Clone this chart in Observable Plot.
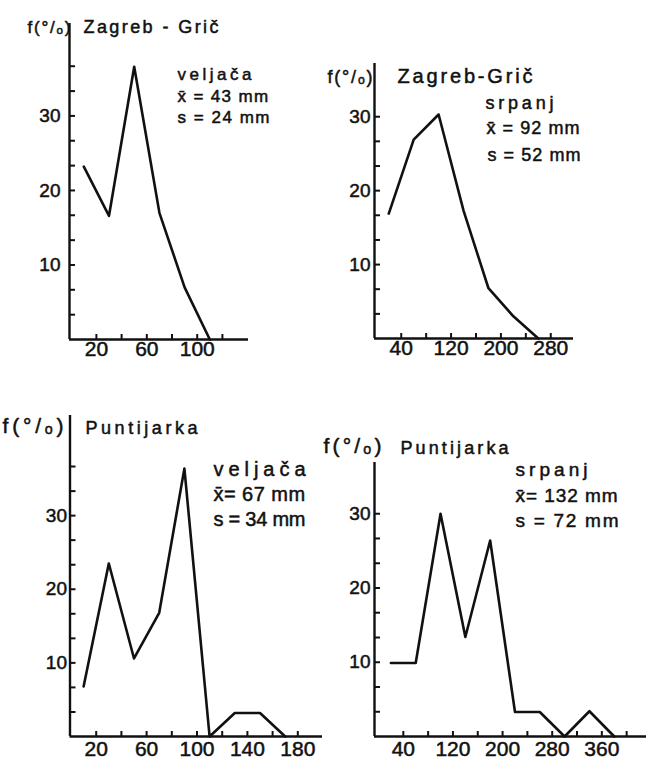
<!DOCTYPE html>
<html>
<head>
<meta charset="utf-8">
<script src="https://cdn.jsdelivr.net/npm/d3@7"></script>
<script src="https://cdn.jsdelivr.net/npm/@observablehq/plot@0.6"></script>
<style>
  html, body { margin: 0; padding: 0; background: #fff; }
  #chart { position: relative; width: 646px; height: 763px; overflow: hidden; background: #fff; }
  #chart svg { position: absolute; left: 0; top: 0; }
</style>
</head>
<body>
<div id="chart"></div>
<script>
// ---------- data ----------
// class midpoints (mm) and relative frequency f (%)
const bins1 = [10, 30, 50, 70, 90, 110];
const freq1 = [23.2, 16.6, 36.6, 17.0, 7.0, 0];

const bins2 = [20, 60, 100, 140, 180, 220, 260];
const freq2 = [16.9, 26.9, 30.3, 17.3, 6.8, 3.0, 0];

const bins3 = [10, 30, 50, 70, 90, 110, 130, 150, 170];
const freq3 = [6.8, 23.5, 10.6, 16.8, 36.4, 0, 3.2, 3.2, 0];

const bins4 = [20, 60, 100, 140, 180, 220, 260, 300, 340, 380];
const freq4 = [9.9, 9.9, 30.0, 13.4, 26.4, 3.3, 3.3, 0, 3.4, 0];

const stations = ["Zagreb - Grič", "Zagreb-Grič", "Puntijarka", "Puntijarka"];
const months = ["veljača", "srpanj", "veljača", "srpanj"];
const means = ["x̄ = 43 mm", "x̄ = 92 mm", "x̄= 67 mm", "x̄= 132 mm"];
const sds = ["s = 24 mm", "s = 52 mm", "s = 34 mm", "s = 72 mm"];
const yTitle = "f(°/ₒ)";

const xTickLabels1 = [20, 60, 100];
const xTickLabels2 = [40, 120, 200, 280];
const xTickLabels3 = [20, 60, 100, 140, 180];
const xTickLabels4 = [40, 120, 200, 280, 360];
const xTicks1 = [20, 40, 60, 80, 100, 120];
const xTicks2 = [40, 80, 120, 160, 200, 240, 280];
const xTicks3 = [20, 40, 60, 80, 100, 120, 140, 160, 180];
const xTicks4 = [40, 80, 120, 160, 200, 240, 280, 320, 360, 400];
const yTickLabels = [10, 20, 30];
const yTicksTall = [3.33, 6.67, 10, 13.33, 16.67, 20, 23.33, 26.67, 30, 33.33, 36.67];
const yTicksShort = [3.33, 6.67, 10, 13.33, 16.67, 20, 23.33, 26.67, 30];

// ---------- layout (page pixels) ----------
const binsAll = [bins1, bins2, bins3, bins4];
const freqAll = [freq1, freq2, freq3, freq4];
const xLabAll = [xTickLabels1, xTickLabels2, xTickLabels3, xTickLabels4];
const xTickAll = [xTicks1, xTicks2, xTicks3, xTicks4];
const yTickAll = [yTicksTall, yTicksShort, yTicksTall, yTicksShort];

const layout = [
  {left: 69, right: 248, top: 23, bottom: 339, xDomain: [-1.35, 140.7], yDomain: [0, 42.4], yPad: 9, xPad: 2,
   text: [{x: 27, y: 32, s: 17, w: 43}, {x: 83, y: 32, s: 18, w: 135}, {x: 177, y: 79, s: 17, w: 74},
          {x: 177, y: 101, s: 17, w: 92}, {x: 177, y: 122, s: 17, w: 92}]},
  {left: 374, right: 573, top: 63, bottom: 338, xDomain: [-2.9, 316.5], yDomain: [0, 37.2], yPad: 4, xPad: 2,
   text: [{x: 327, y: 82, s: 18, w: 45}, {x: 397, y: 82, s: 20, w: 135}, {x: 485, y: 108, s: 18, w: 68},
          {x: 486, y: 133, s: 18, w: 94}, {x: 487, y: 160, s: 18, w: 93}]},
  {left: 69.5, right: 322, top: 415, bottom: 736, xDomain: [-0.8, 199.6], yDomain: [0, 43.6], yPad: 3, xPad: 5,
   text: [{x: 2, y: 432, s: 21, w: 61}, {x: 85, y: 433, s: 18, w: 112}, {x: 213, y: 475, s: 20, w: 92},
          {x: 213, y: 500, s: 20, w: 92}, {x: 213, y: 525, s: 20, w: 92}]},
  {left: 374, right: 646, top: 462, bottom: 736, xDomain: [-6.45, 432], yDomain: [0, 36.9], yPad: 4, xPad: 5,
   text: [{x: 323, y: 452, s: 21, w: 58}, {x: 400, y: 453, s: 18, w: 108}, {x: 515, y: 475, s: 19, w: 72},
          {x: 515, y: 501, s: 19, w: 103}, {x: 515, y: 526, s: 19, w: 103}]}
];

const INK = "#111";
const FONT = "Liberation Sans, Arial, sans-serif";
const TICKFONT = "Liberation Sans Narrow, Liberation Sans, Arial, sans-serif";
const TICK_LEN = 5;

function panel(i) {
  const L = layout[i];
  const frameW = L.right - L.left, frameH = L.bottom - L.top;
  const rows = binsAll[i].map((b, j) => ({bin: b, f: freqAll[i][j]}));
  const strings = [yTitle, stations[i], months[i], means[i], sds[i]];
  const textMarks = strings.map((str, k) => {
    const t = L.text[k];
    return Plot.text([str], {
      text: d => d, frameAnchor: "top-left",
      dx: t.x - L.left, dy: t.y - L.top,
      textAnchor: "start", lineAnchor: "bottom",
      fontSize: t.s, fontFamily: FONT, fill: INK, stroke: INK, strokeWidth: 0.5
    });
  });
  return Plot.plot({
    width: 646, height: 763,
    marginLeft: L.left, marginRight: 646 - L.right,
    marginTop: L.top, marginBottom: 763 - L.bottom,
    x: {domain: L.xDomain, label: null},
    y: {domain: L.yDomain, label: null},
    style: {background: "transparent", fontFamily: FONT, color: INK, overflow: "visible"},
    marks: [
      Plot.ruleY([0], {strokeWidth: 2.4, stroke: INK}),
      Plot.ruleX([L.xDomain[0]], {strokeWidth: 2.4, stroke: INK}),
      // inward tick marks: short rules hugging the axes
      Plot.ruleX(xTickAll[i], {x: d => d, insetTop: frameH - TICK_LEN, strokeWidth: 2, stroke: INK}),
      Plot.ruleY(yTickAll[i], {y: d => d, insetRight: frameW - TICK_LEN - 1, strokeWidth: 2, stroke: INK}),
      Plot.axisX(xLabAll[i], {tickSize: 0, tickPadding: L.xPad, fontSize: 21, fontFamily: TICKFONT,
        textStroke: INK, textStrokeWidth: 0.5, label: null}),
      Plot.axisY(yTickLabels, {tickSize: 0, tickPadding: L.yPad, fontSize: 19, fontFamily: TICKFONT,
        textStroke: INK, textStrokeWidth: 0.5, label: null}),
      Plot.line(rows, {x: "bin", y: "f", strokeWidth: 2.6, stroke: INK}),
      ...textMarks
    ]
  });
}

const chart = document.getElementById("chart");
layout.forEach((L, i) => {
  const svg = panel(i);
  chart.appendChild(svg);
  // spread the hand-lettered annotation text to its measured width
  const texts = svg.querySelectorAll('g[aria-label="text"] text');
  texts.forEach((t, k) => {
    const spec = L.text[k];
    if (!spec) return;
    const len = t.getComputedTextLength();
    const n = [...t.textContent].length;
    const ls = Math.max(-1, Math.min(5, (spec.w - len) / Math.max(1, n - 1)));
    t.style.letterSpacing = ls.toFixed(2) + "px";
  });
});
</script>
</body>
</html>
